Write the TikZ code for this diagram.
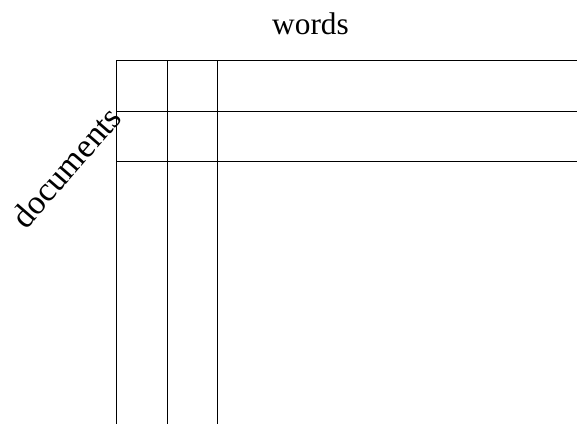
\documentclass[tikz,border=0pt]{standalone}
\usepackage{fontspec}
\setmainfont{Liberation Serif}
\usetikzlibrary{positioning}
\tikzset{
  gridline/.style={draw=black, line width=0.6pt},
  axislabel/.style={font=\fontsize{23.5}{28}\selectfont, inner sep=0pt}
}
\begin{document}
\begin{tikzpicture}[x=0.75pt, y=-0.75pt]

  \useasboundingbox (0,0) rectangle (577,424);

  %% LABELS
  \node[axislabel, anchor=base] (words) at (310.5,35) {words};
  \node[axislabel, font=\fontsize{25.5}{30}\selectfont, rotate=49]
    (documents) at (66,167) {documents};

  %% MATRIX GRID
  \foreach \x in {116.5,167,217.5}
    \draw[gridline] (\x,60.5) -- (\x,424);
  \foreach \y in {60.5,111,161}
    \draw[gridline] (116.5,\y) -- (577,\y);

\end{tikzpicture}
\end{document}
